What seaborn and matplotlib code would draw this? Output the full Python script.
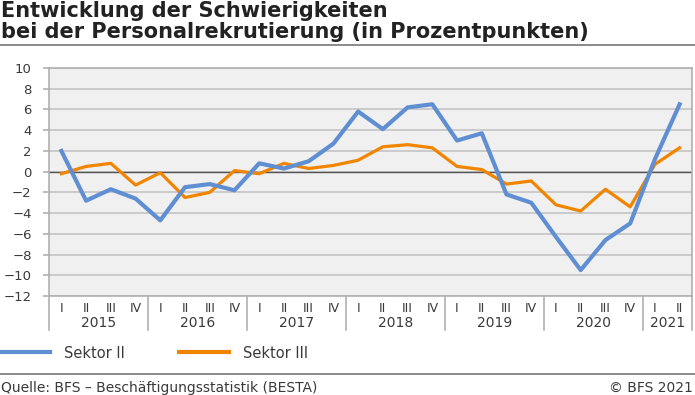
import pandas as pd
import seaborn as sns
import matplotlib.pyplot as plt
from matplotlib.lines import Line2D
import matplotlib.transforms as mtransforms

# quarterly data 2015 Q1 .. 2021 Q2
years = ['2015', '2016', '2017', '2018', '2019', '2020', '2021']
quarters_per_year = [4, 4, 4, 4, 4, 4, 2]
quarter_labels = ['I', 'II', 'III', 'IV']

sektor_ii = [2.0, -2.8, -1.7, -2.6,
             -4.7, -1.5, -1.2, -1.8,
             0.8, 0.3, 1.0, 2.7,
             5.8, 4.1, 6.2, 6.5,
             3.0, 3.7, -2.2, -3.0,
             -6.3, -9.5, -6.6, -5.0,
             1.2, 6.5]
sektor_iii = [-0.2, 0.5, 0.8, -1.3,
              -0.1, -2.5, -2.0, 0.1,
              -0.2, 0.8, 0.3, 0.6,
              1.1, 2.4, 2.6, 2.3,
              0.5, 0.2, -1.2, -0.9,
              -3.2, -3.8, -1.7, -3.4,
              0.7, 2.3]

series_names = ['Sektor II', 'Sektor III']
colors = ['#5f8fd2', '#f28500']
text_col = '#3a3a3a'

# build long table
n = len(sektor_ii)
df = pd.DataFrame({
    'pos': list(range(n)) * 2,
    'wert': sektor_ii + sektor_iii,
    'sektor': [series_names[0]] * n + [series_names[1]] * n,
})

plt.rcParams['font.family'] = ['DejaVu Sans']
fig = plt.figure(figsize=(6.95, 3.95), dpi=100)
ax = fig.add_axes([49 / 695, 1 - 296 / 395, (692 - 49) / 695, (296 - 68) / 395])
ax.set_facecolor('#f0f0f0')

sns.lineplot(data=df, x='pos', y='wert', hue='sektor', palette=colors,
             legend=False, ax=ax)
ax.lines[0].set_linewidth(3.0)
ax.lines[1].set_linewidth(2.3)
ax.lines[0].set_zorder(4)
ax.lines[1].set_zorder(3)

ax.set_xlim(-0.5, n - 0.5)
ax.set_ylim(-12, 10)
ax.set_yticks(range(-12, 11, 2))
ax.yaxis.grid(True, color='#c4c4c4', linewidth=1.2)
ax.set_axisbelow(True)
ax.axhline(0, color='#555555', linewidth=1.0, zorder=2)
ax.set_xlabel('')
ax.set_ylabel('')
for s in ax.spines.values():
    s.set_color('#b0b0b0')
    s.set_linewidth(1.2)
ax.tick_params(axis='y', length=4.5, width=1.2, color='#b0b0b0', labelsize=9.5,
               pad=8, labelcolor=text_col)

# roman numeral ticks and year labels
qlabels = []
for q in quarters_per_year:
    qlabels += quarter_labels[:q]
ax.set_xticks(range(n))
ax.set_xticklabels(qlabels, fontsize=9, color=text_col)
ax.tick_params(axis='x', length=0, pad=4)

trans = mtransforms.blended_transform_factory(ax.transData, ax.transAxes)
start = 0
bounds = [-0.5]
for yr, q in zip(years, quarters_per_year):
    mid = start + (q - 1) / 2
    ax.text(mid, -0.12, yr, transform=trans, ha='center', va='center',
            fontsize=10, color=text_col)
    start += q
    bounds.append(start - 0.5)
for b in bounds:
    ax.add_line(Line2D([b, b], [0, -0.15], transform=trans, color='#b0b0b0',
                       linewidth=1.2, clip_on=False))

# title
fig.text(0.002, 1 - 17 / 395, 'Entwicklung der Schwierigkeiten',
         ha='left', va='baseline', fontsize=15, fontweight='bold', color='#222222')
fig.text(0.002, 1 - 38 / 395, 'bei der Personalrekrutierung (in Prozentpunkten)',
         ha='left', va='baseline', fontsize=15, fontweight='bold', color='#222222')
fig.add_artist(Line2D([0, 1], [1 - 45 / 395] * 2, color='#777777', linewidth=1.2))

# legend
handles = [Line2D([], [], color=c, linewidth=3) for c in colors]
fig.legend(handles, series_names, loc='center left',
           bbox_to_anchor=(0, 1 - 353 / 395), ncol=2, frameon=False,
           fontsize=10.5, handlelength=3.4, handletextpad=1.0,
           columnspacing=3.7, borderpad=0, borderaxespad=0,
           labelcolor=text_col)

# source
fig.add_artist(Line2D([0, 1], [1 - 374 / 395] * 2, color='#777777', linewidth=1.2))
fig.text(0.002, 1 - 388 / 395, 'Quelle: BFS – Beschäftigungsstatistik (BESTA)',
         ha='left', va='center', fontsize=10, color=text_col)
fig.text(0.997, 1 - 388 / 395, '© BFS 2021', ha='right', va='center',
         fontsize=10, color=text_col)

fig.savefig('out.png', dpi=100)
